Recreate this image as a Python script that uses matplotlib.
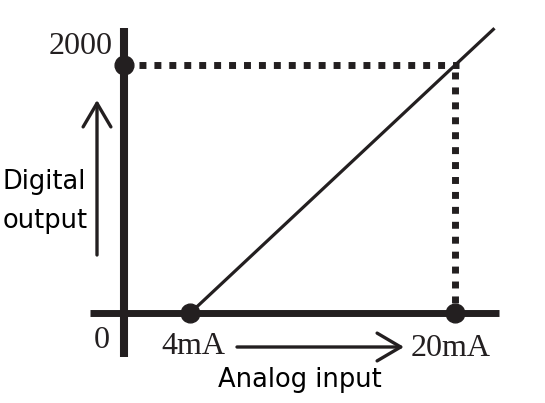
import matplotlib.pyplot as plt
from matplotlib.patches import FancyArrowPatch

# Data: analog input (mA) -> digital output
input_ma = [4, 20]
output_counts = [0, 2000]
line_end_ma = 22.3          # line keeps going past 20 mA
axis_x_range = [-2.05, 22.65]
axis_y_range = [-355, 2300]
tick_labels = ["0", "4mA", "20mA", "2000"]

W, H = 545, 403
# pixel layout of the original drawing
PX0, PY0 = 124, 313          # origin in pixels
SX = (455 - 190) / 16.0      # px per mA
SY = (313 - 65) / 2000.0     # px per count

fig = plt.figure(figsize=(W / 100, H / 100), dpi=100)
ax = fig.add_axes([0, 0, 1, 1])
ax.set_xlim((0 - PX0) / SX, (W - PX0) / SX)
ax.set_ylim((PY0 - H) / SY, PY0 / SY)
ax.axis("off")


def px(x, y):
    # pixel position -> data coords
    return (x - PX0) / SX, (PY0 - y) / SY


k = "#231f20"

# axes
ax.plot([0, 0], axis_y_range, color=k, lw=5.8, solid_capstyle="butt", zorder=2)
ax.plot(axis_x_range, [0, 0], color=k, lw=5.0, solid_capstyle="butt", zorder=2)

# dotted guides (square dots)
m = input_ma[1] - input_ma[0]
slope = (output_counts[1] - output_counts[0]) / m
dots = dict(color=k, lw=5.0, linestyle=(0, (1, 1.15)), dash_capstyle="butt", zorder=2)
ax.plot([0.9, input_ma[1] + 0.2], [output_counts[1]] * 2, **dots)
ax.plot([input_ma[1]] * 2, [output_counts[1] - 60, output_counts[0]], **dots)

# transfer line
ax.plot([input_ma[0], line_end_ma],
        [output_counts[0], output_counts[0] + slope * (line_end_ma - input_ma[0])],
        color=k, lw=2.3, zorder=3)

# points
ax.plot([0, input_ma[0], input_ma[1]], [output_counts[1], 0, 0], "o",
        color=k, ms=13.5, zorder=4)

# tick labels (serif)
serif = dict(family="Liberation Serif", fontsize=23, color=k, va="center")
ax.text(*px(113, 47), tick_labels[3], ha="right", **serif)
ax.text(*px(102, 341), tick_labels[0], ha="center", **serif)
ax.text(*px(193, 346), tick_labels[1], ha="center", **serif)
ax.text(*px(451, 349), tick_labels[2], ha="center", **serif)

# axis titles (sans)
sans = dict(family="DejaVu Sans", fontsize=18.5, color="black", va="center")
ax.text(*px(3, 182), "Digital", ha="left", **sans)
ax.text(*px(3, 221), "output", ha="left", **sans)
ax.text(*px(300, 380), "Analog input", ha="center", **sans)

# arrows
for a, b in [((97, 255), (97, 100)), ((237, 347), (404, 347))]:
    arr = FancyArrowPatch(px(*a), px(*b), arrowstyle="->,head_length=17,head_width=10",
                          lw=2.4, color=k, mutation_scale=1, shrinkA=0, shrinkB=0)
    ax.add_patch(arr)

fig.savefig("out.png", dpi=100)
